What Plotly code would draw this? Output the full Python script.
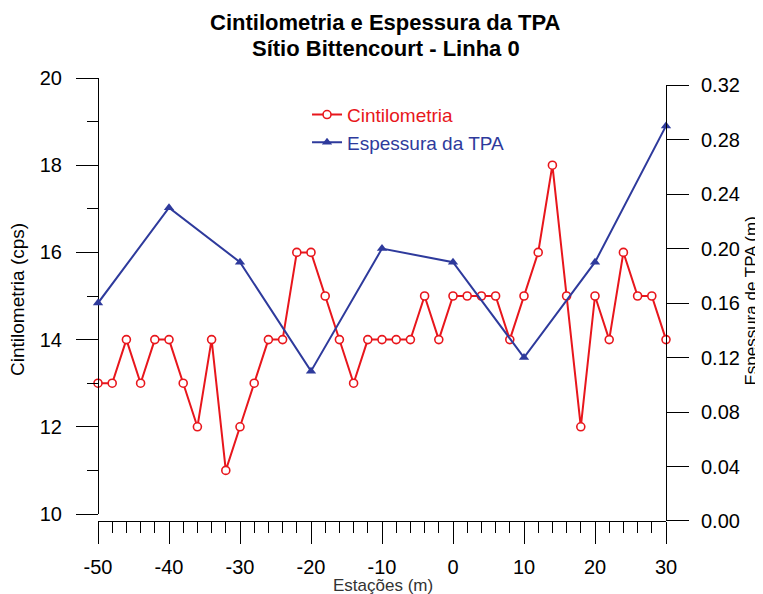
import plotly.graph_objects as go

# Cintilometria (cps) every 2 m along the line
estacoes_cint = list(range(-50, 31, 2))
cintilometria = [13, 13, 14, 13, 14, 14, 13, 12, 14, 11,
                 12, 13, 14, 14, 16, 16, 15, 14, 13, 14,
                 14, 14, 14, 15, 14, 15, 15, 15, 15, 14,
                 15, 16, 18, 15, 12, 15, 14, 16, 15, 15,
                 14]

# Espessura da TPA (m) every 10 m
estacoes_tpa = [-50, -40, -30, -20, -10, 0, 10, 20, 30]
espessura_tpa = [0.16, 0.23, 0.19, 0.11, 0.20, 0.19, 0.12, 0.19, 0.29]

# Tick labels for the station axis (plain hyphen, like the original)
x_tickvals = [-50, -40, -30, -20, -10, 0, 10, 20, 30]
x_ticktext = ["-50", "-40", "-30", "-20", "-10", "0", "10", "20", "30"]

red = "#E8161C"
blue = "#2E3A9C"
font_family = "Liberation Sans, Arial, sans-serif"

fig = go.Figure()

fig.add_trace(go.Scatter(
    x=estacoes_cint, y=cintilometria,
    name="<span style='color:%s'>Cintilometria</span>" % red,
    mode="lines+markers",
    line=dict(color=red, width=2),
    marker=dict(symbol="circle", size=8, color="white",
                line=dict(color=red, width=1.6)),
    cliponaxis=False,
    xaxis="x", yaxis="y",
))

fig.add_trace(go.Scatter(
    x=estacoes_tpa, y=espessura_tpa,
    name="<span style='color:%s'>Espessura da TPA</span>" % blue,
    mode="lines+markers",
    line=dict(color=blue, width=2),
    marker=dict(symbol="triangle-up", size=9, color=blue),
    cliponaxis=False,
    xaxis="x2", yaxis="y2",
))

# Title lines and axis titles as annotations
annotations = [
    dict(text="<b>Cintilometria e Espessura da TPA</b>", x=0.507, y=1.1242,
         font=dict(size=22)),
    dict(text="<b>Sítio Bittencourt - Linha 0</b>", x=0.507, y=1.0677,
         font=dict(size=22)),
    dict(text="Estações (m)", x=0.502, y=-0.1445,
         font=dict(size=17, color="#333333")),
    dict(text="Cintilometria (cps)", x=-0.1408, y=0.499, textangle=-90,
         font=dict(size=19)),
    dict(text="Espessura de TPA (m)", x=1.151, y=0.497, textangle=-90,
         font=dict(size=17)),
]
for a in annotations:
    a.update(xref="paper", yref="paper", xanchor="center", yanchor="middle",
             showarrow=False)

fig.update_layout(
    width=763, height=594,
    margin=dict(l=90, r=105, t=70, b=81),
    paper_bgcolor="white", plot_bgcolor="rgba(0,0,0,0)",
    font=dict(family=font_family, size=20, color="black"),
    annotations=annotations,
    showlegend=True,
    legend=dict(
        x=0.368, y=0.96, xanchor="left", yanchor="top",
        bgcolor="rgba(0,0,0,0)",
        font=dict(size=19),
    ),
    xaxis=dict(
        range=[-50, 30], tickvals=x_tickvals, ticktext=x_ticktext,
        showgrid=False, zeroline=False,
        showline=True, linecolor="black", linewidth=1,
        ticks="outside", ticklen=22, tickcolor="black",
        minor=dict(dtick=2, tick0=0, ticks="outside", ticklen=11,
                   tickcolor="black"),
        anchor="free", position=0,
        ticklabelstandoff=6,
    ),
    xaxis2=dict(
        matches="x", overlaying="x", visible=False,
    ),
    yaxis=dict(
        range=[10, 20], dtick=2,
        domain=[0.0158, 1],
        showgrid=False, zeroline=False,
        showline=True, linecolor="black", linewidth=1,
        ticks="outside", ticklen=22, tickcolor="black",
        minor=dict(dtick=1, ticks="outside", ticklen=11, tickcolor="black"),
        anchor="free", position=0,
        ticklabelstandoff=10,
    ),
    yaxis2=dict(
        range=[0, 0.32], dtick=0.04, tickformat=".2f",
        domain=[0, 0.984],
        side="right",
        showgrid=False, zeroline=False,
        showline=True, linecolor="black", linewidth=1,
        ticks="outside", ticklen=22, tickcolor="black",
        anchor="free", position=1,
        ticklabelstandoff=8,
    ),
)

fig.write_html("out.html")
